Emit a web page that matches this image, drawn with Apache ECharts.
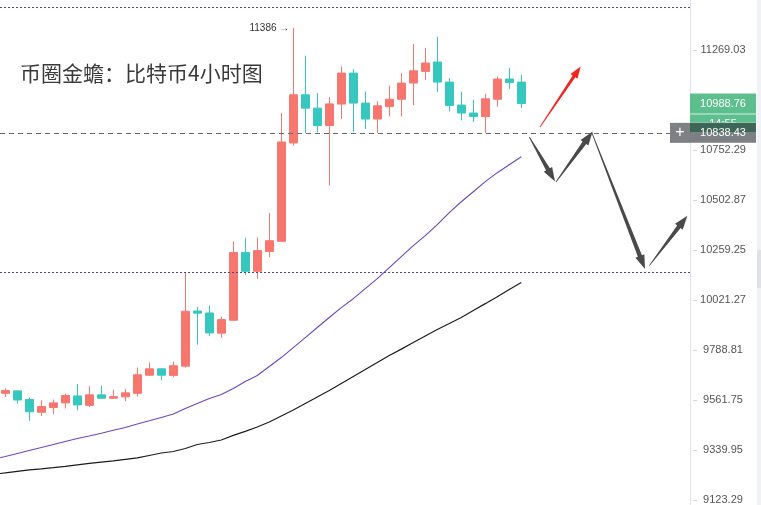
<!DOCTYPE html>
<html><head><meta charset="utf-8">
<script src="https://cdn.jsdelivr.net/npm/echarts@6/dist/echarts.min.js"></script>
<style>html,body{margin:0;padding:0;background:#fff}#c{width:761px;height:505px}</style>
</head><body><div id="c"></div>
<script>
// ---- data (4h candles) ----
const opens  = [9590,9601,9562,9505,9526,9547,9578,9536,9583,9568,9574,9590,9672,9701,9671,9713,9968,9959,9865,9925,10246,10156,10251,10300,10787,11034,10965,10876,10986,11147,10991,10909,10973,11011,11095,11156,11205,11100,10981,10940,10922,11011,11116,11100];
const closes = [9603,9560,9507,9531,9547,9580,9538,9583,9568,9575,9592,9674,9701,9672,9715,9967,9958,9866,9928,10246,10156,10255,10303,10792,11034,10965,10876,10987,11147,10991,10909,10977,11011,11095,11159,11200,11100,10979,10940,10922,11013,11116,11098,10988.76];
const lows   = [9573,9544,9467,9488,9497,9522,9514,9528,9565,9565,9554,9575,9668,9649,9663,9706,9812,9851,9843,9923,10138,10121,10223,10298,10773,10838,10841,10573,10909,10844,10858,10838,10922,10922,10981,11112,11048,10948,10902,10894,10838,10973,11065,10965];
const highs  = [9612,9603,9570,9559,9562,9588,9632,9621,9624,9606,9610,9707,9731,9703,9734,10148,9987,9993,9941,10300,10317,10319,10438,10940,11386,11239,11043,11022,11182,11168,11051,11001,11081,11147,11301,11280,11340,11121,11050,11008,11039,11130,11173,11138];
// moving averages, first value belongs to the bar before the first visible candle
const maStartIndex = -1;
const maPurple = [9297,9309.6,9322.6,9335.6,9348.8,9362.1,9375.4,9388.8,9399.4,9411.8,9424.7,9437.5,9453.1,9466.8,9481.9,9497.0,9521.8,9544.0,9566.3,9584.5,9611.7,9643.5,9670.7,9711.6,9752.5,9798.1,9844.6,9891.1,9937.6,9984.1,10026.0,10073.6,10121.2,10173.6,10225.9,10278.8,10327.5,10381.1,10439.5,10493.1,10542.8,10592.7,10637.6,10677.5,10717.4];
const maBlack  = [9232,9238.1,9244.6,9251.1,9255.4,9260.7,9266.3,9272.8,9279.3,9284.9,9290.1,9296.6,9303.1,9313.9,9324.8,9331.3,9344.4,9362.1,9371.0,9382.1,9402.1,9419.8,9439.7,9461.9,9488.6,9515.2,9544.0,9573.1,9602.6,9634.4,9666.2,9698.0,9729.8,9761.6,9791.1,9821.4,9851.6,9881.8,9909.7,9937.6,9970.1,10002.7,10035.5,10068.9,10102.2];
// right axis tick labels (log-spaced)
const tickLabels = [9123.29,9339.95,9561.75,9788.81,10021.27,10259.25,10502.87,10752.29,11007.63,11269.03];
const lastPrice = 10988.76;
const crossPrice = 10838.43;
const countdown = '14:55';
const levelLines = [11500, 10150];
const highIndex = 24, highValue = 11386;
const titleText = '币圈金蟾：比特币4小时图';
// annotation arrows: [fromIndex, fromPrice, toIndex, toPrice, isRed]
const arrows = [
  [44.56,10868,47.95,11182,1],
  [43.67,10817,45.81,10594,0],
  [45.89,10591,48.95,10846,0],
  [48.87,10841,53.31,10167,0],
  [53.67,10183,56.84,10425,0]
];

// ---- build ----
const UP = '#f7776f', DOWN = '#36c8be';
const candles = opens.map((o,i)=>[i,o,closes[i],lows[i],highs[i]]);
const purpleData = maPurple.map((v,i)=>[i+maStartIndex,v]);
const blackData = maBlack.map((v,i)=>[i+maStartIndex,v]);
const FONT = 'Liberation Sans, Arial, sans-serif';

const chart = echarts.init(document.getElementById('c'), null, {renderer:'canvas'});
chart.setOption({
  animation:false,
  backgroundColor:'#ffffff',
  title:{text:titleText,left:15,top:58,textStyle:{fontSize:21,fontWeight:'normal',color:'#3a3a3a',fontFamily:'Noto Sans CJK SC'}},
  grid:{left:0,right:71,top:0,bottom:0,containLabel:false},
  xAxis:{type:'value',min:-0.44,max:57.06,show:false,splitLine:{show:false},axisTick:{show:false},axisLabel:{show:false},axisLine:{show:false,onZero:false}},
  yAxis:{type:'log',logBase:10,min:9101.9,max:11536.6,position:'right',
    axisLine:{show:true,onZero:false,lineStyle:{color:'#e1e4ea',width:1}},
    axisTick:{show:false},
    minorTick:{show:false},
    axisLabel:{customValues:tickLabels,formatter:v=>Number(v).toFixed(2),align:'center',margin:33,fontSize:11,color:'#555',fontFamily:FONT},
    splitLine:{show:false}},
  series:[
    {type:'line',data:blackData,symbol:'none',lineStyle:{color:'#1c1c1c',width:1.2},z:2,silent:true},
    {type:'line',data:purpleData,symbol:'none',lineStyle:{color:'#6a47c2',width:1.1},z:2,silent:true},
    {type:'candlestick',data:candles,barWidth:8,z:3,
      itemStyle:{color:UP,color0:DOWN,borderColor:UP,borderColor0:DOWN,borderWidth:1},
      markLine:{silent:true,symbol:['none','none'],label:{show:false},
        data:[
          {yAxis:levelLines[0],lineStyle:{type:[2,2],color:'#4e4690',width:1}},
          {yAxis:levelLines[1],lineStyle:{type:[2,2],color:'#4e4690',width:1}},
          {yAxis:crossPrice,lineStyle:{type:[5,4],color:'#6a6a6a',width:1}}
        ]},
      markPoint:{silent:true,symbol:'circle',symbolSize:0,
        label:{show:true,position:'left',distance:4,formatter:highValue+' →',color:'#333',fontSize:10,fontFamily:FONT},
        data:[{coord:[highIndex,highValue]}]}
    },
    {type:'custom',data:arrows,z:5,silent:true,
      renderItem:function(params,api){
        const s = api.coord([api.value(0),api.value(1)]);
        const e = api.coord([api.value(2),api.value(3)]);
        const red = api.value(4)===1;
        const dx=e[0]-s[0], dy=e[1]-s[1], L=Math.sqrt(dx*dx+dy*dy);
        const ux=dx/L, uy=dy/L, nx=-uy, ny=ux;
        const h = red?12:14, hw = red?4.2:4.8, w1 = red?1.6:2.2, w0 = 0.4;
        const bx=e[0]-ux*h, by=e[1]-uy*h;
        const pts=[
          [s[0]+nx*w0,s[1]+ny*w0],[bx+nx*w1,by+ny*w1],[bx+nx*hw,by+ny*hw],[e[0],e[1]],
          [bx-nx*hw,by-ny*hw],[bx-nx*w1,by-ny*w1],[s[0]-nx*w0,s[1]-ny*w0]
        ];
        return {type:'polygon',shape:{points:pts},style:{fill:red?'#f2261c':'#4a4a4a'}};
      }}
  ]
});

const yLast = chart.convertToPixel({yAxisIndex:0}, lastPrice);
const yCross = chart.convertToPixel({yAxisIndex:0}, crossPrice);
const xAxisLine = 690;
const tickGraphics = tickLabels.map(v=>({type:'rect',z:50,shape:{x:693,y:Math.round(chart.convertToPixel({yAxisIndex:0}, v)),width:4,height:1},style:{fill:'#d4d7dd'}}));
chart.setOption({graphic:tickGraphics.concat([
  {type:'rect',z:100,shape:{x:757,y:0,width:4,height:505},style:{fill:'#f1f2f5'}},
  {type:'rect',z:100,shape:{x:757,y:250,width:4,height:38},style:{fill:'#dfe1e6'}},
  {type:'rect',z:101,shape:{x:xAxisLine,y:yLast-10,width:66,height:29},style:{fill:'#5dbf8d'}},
  {type:'rect',z:102,shape:{x:xAxisLine,y:yLast+10,width:66,height:1},style:{fill:'rgba(255,255,255,0.75)'}},
  {type:'text',z:103,style:{x:723,y:yLast,text:lastPrice.toFixed(2),fill:'#fff',fontSize:11,fontFamily:FONT,align:'center',verticalAlign:'middle'}},
  {type:'text',z:103,style:{x:723,y:yLast+20,text:countdown,fill:'#fff',fontSize:11,fontFamily:FONT,align:'center',verticalAlign:'middle'}},
  {type:'rect',z:104,shape:{x:xAxisLine,y:yCross-10,width:66,height:10},style:{fill:'#3e6656'}},
  {type:'rect',z:104,shape:{x:xAxisLine,y:yCross,width:66,height:10},style:{fill:'#7c7f83'}},
  {type:'text',z:105,style:{x:723,y:yCross,text:crossPrice.toFixed(2),fill:'#fff',fontSize:11,fontFamily:FONT,align:'center',verticalAlign:'middle'}},
  {type:'rect',z:104,shape:{x:670,y:yCross-10,width:20,height:20},style:{fill:'#7d8186'}},
  {type:'text',z:105,style:{x:680,y:yCross,text:'+',fill:'#fff',fontSize:16,fontFamily:FONT,align:'center',verticalAlign:'middle'}}
])});
</script></body></html>
